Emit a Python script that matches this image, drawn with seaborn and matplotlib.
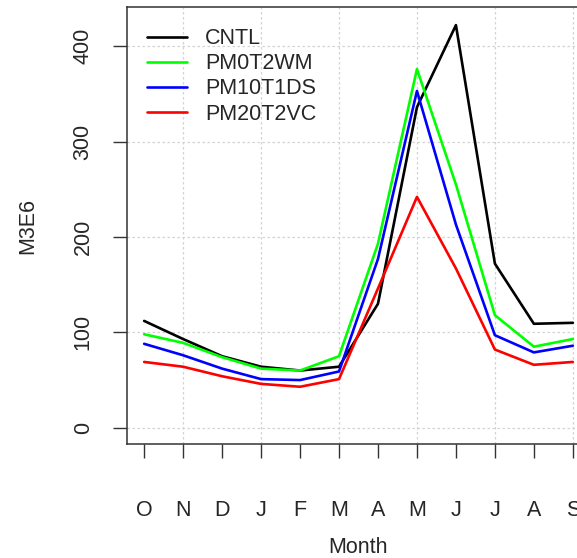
import matplotlib
matplotlib.use("Agg")
import matplotlib.pyplot as plt
from matplotlib.lines import Line2D
import seaborn as sns
import pandas as pd

months = ["O", "N", "D", "J", "F", "M", "A", "M", "J", "J", "A", "S"]
cntl = [112, 93, 75, 64, 60, 64, 130, 336, 422, 172, 109, 110]
pm0t2wm = [98, 89, 74, 62, 60, 75, 193, 376, 255, 118, 85, 93]
pm10t1ds = [88, 76, 62, 51, 50, 59, 177, 353, 213, 97, 79, 86]
pm20t2vc = [69, 64, 54, 46, 43, 51, 146, 242, 167, 82, 66, 69]
series_names = ["CNTL", "PM0T2WM", "PM10T1DS", "PM20T2VC"]
series_values = [cntl, pm0t2wm, pm10t1ds, pm20t2vc]
colors = ["#000000", "#00FF00", "#0000FF", "#FF0000"]
yticks = [0, 100, 200, 300, 400]

rows = []
for name, vals in zip(series_names, series_values):
    for i, v in enumerate(vals):
        rows.append({"x": i + 1, "value": v, "series": name})
df = pd.DataFrame(rows)

sns.set_style("white")
plt.rcParams["font.family"] = ["Liberation Sans", "DejaVu Sans"]

FS = 15.5

fig = plt.figure(figsize=(5.77, 5.58), dpi=100)
ax = fig.add_axes([127 / 577, (558 - 444) / 558, (590 - 127) / 577, (444 - 7) / 558])

sns.lineplot(data=df, x="x", y="value", hue="series", hue_order=series_names,
             palette=dict(zip(series_names, colors)), linewidth=1.9, ax=ax,
             legend=False, zorder=3)

ax.set_xlim(0.56, 12.44)
ax.set_ylim(-17, 441)

# grid like R grid(): dotted light gray
for gx in range(2, 13, 2):
    ax.axvline(gx, color="#d3d3d3", linestyle=(0, (2, 2)), linewidth=0.9, zorder=1)
for gy in yticks:
    ax.axhline(gy, color="#d3d3d3", linestyle=(0, (2, 2)), linewidth=0.9, zorder=1)

ax.set_xticks(range(1, 13))
ax.set_xticklabels(months)
ax.set_yticks(yticks)
ax.set_yticklabels([str(t) for t in yticks], rotation=90, va="center")

ax.tick_params(axis="x", direction="out", length=10, width=1.0, color="#333333",
               pad=30, labelsize=FS, bottom=True)
ax.tick_params(axis="y", direction="out", length=10, width=1.0, color="#333333",
               pad=14, labelsize=FS, left=True)

for s in ax.spines.values():
    s.set_visible(True)
    s.set_color("#333333")
    s.set_linewidth(1.1)

ax.set_xlabel("Month", fontsize=FS, labelpad=12)
ax.set_ylabel("M3E6", fontsize=FS, labelpad=25)

handles = [Line2D([0], [0], color=c, linewidth=1.9) for c in colors]
ax.legend(handles, series_names, loc="upper left", frameon=False, fontsize=FS,
          handlelength=1.86, handletextpad=0.84, labelspacing=0.19,
          bbox_to_anchor=(13.5 / 463, 0.966), borderaxespad=0, borderpad=0.3)

fig.savefig("out.png", dpi=100)
